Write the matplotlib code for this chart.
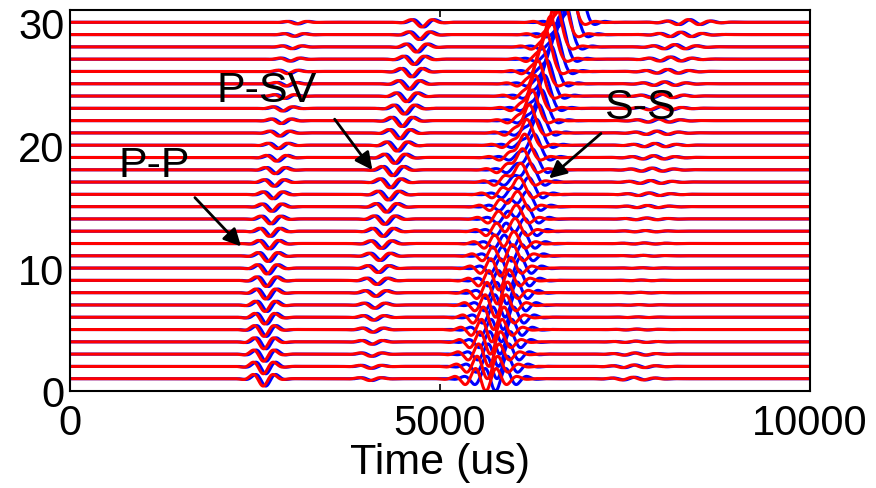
import numpy as np
import matplotlib
matplotlib.use("Agg")
import matplotlib.pyplot as plt

plt.rcParams['font.family'] = ['Liberation Sans', 'DejaVu Sans']

# trace numbers (offset of every trace on the y axis)
traces = np.arange(1, 31)

# arrival times (us) read per trace, bottom (1) to top (30)
pp_time = [2610, 2612, 2615, 2618, 2622, 2627, 2633, 2640, 2648, 2657,
           2667, 2678, 2690, 2703, 2717, 2732, 2748, 2765, 2783, 2802,
           2822, 2843, 2865, 2888, 2912, 2937, 2963, 2990, 3020, 3060]
pp_amp = [0.60, 0.60, 0.58, 0.57, 0.56, 0.55, 0.53, 0.52, 0.50, 0.48,
          0.46, 0.44, 0.42, 0.40, 0.38, 0.36, 0.34, 0.32, 0.30, 0.28,
          0.26, 0.24, 0.22, 0.20, 0.19, 0.18, 0.16, 0.15, 0.14, 0.13]

psv_time = [4050, 4055, 4062, 4070, 4080, 4092, 4105, 4120, 4137, 4155,
            4175, 4196, 4218, 4242, 4267, 4293, 4320, 4350, 4380, 4412,
            4444, 4476, 4508, 4540, 4572, 4606, 4640, 4675, 4712, 4750]
psv_amp = [0.15, 0.16, 0.18, 0.20, 0.22, 0.24, 0.27, 0.30, 0.33, 0.36,
           0.38, 0.40, 0.42, 0.44, 0.45, 0.46, 0.47, 0.48, 0.48, 0.48,
           0.48, 0.48, 0.47, 0.46, 0.45, 0.44, 0.43, 0.42, 0.40, 0.38]

ss_time = [5620, 5640, 5660, 5680, 5700, 5725, 5750, 5775, 5800, 5825,
           5850, 5875, 5900, 5925, 5950, 5980, 6010, 6045, 6080, 6115,
           6150, 6190, 6230, 6270, 6320, 6380, 6440, 6510, 6590, 6680]
ss_amp = [-1.0, -1.0, -1.0, -1.0, -1.0, -1.0, -1.0, -1.0, -0.95, -0.9,
          -0.85, -0.8, -0.75, -0.7, -0.65, -0.6, -0.55, -0.5, -0.45, -0.4,
          -0.4, -0.4, -0.4, -0.4, -0.4, -0.4, -0.4, -0.4, -0.4, -0.4]
ss_peak = [0.0, 0.0, 0.0, 0.0, 0.0, 0.0, 0.0, 0.1, 0.2, 0.3,
           0.5, 0.7, 0.9, 1.1, 1.3, 1.5, 1.7, 1.9, 2.1, 2.3,
           2.5, 2.7, 2.9, 3.1, 3.3, 3.5, 3.7, 3.9, 4.1, 4.3]

late_time = [7600, 7610, 7620, 7630, 7640, 7655, 7670, 7685, 7700, 7715,
             7730, 7745, 7760, 7775, 7790, 7810, 7830, 7850, 7870, 7890,
             7915, 7940, 7965, 7990, 8020, 8060, 8100, 8160, 8240, 8350]
late_amp = [0.12, 0.12, 0.10, 0.06, 0.04, 0.03, 0.03, 0.03, 0.03, 0.03,
            0.04, 0.05, 0.06, 0.08, 0.10, 0.12, 0.13, 0.14, 0.15, 0.15,
            0.15, 0.15, 0.15, 0.16, 0.16, 0.17, 0.18, 0.19, 0.20, 0.22]

t = np.arange(0, 10001, 10.0)


def gabor(t0, amp, sig, per):
    return amp * np.exp(-((t - t0) / sig) ** 2) * np.cos(2 * np.pi * (t - t0) / per)


def trace(i, dt_p, dt_s):
    s = gabor(pp_time[i] + dt_p, -pp_amp[i], 190, 300)
    s += gabor(psv_time[i] + dt_p, -psv_amp[i], 200, 320)
    s += gabor(ss_time[i] + dt_s, ss_amp[i], 330, 290)
    s += ss_peak[i] * np.exp(-((t - ss_time[i] - dt_s - 40) / 100) ** 2)
    s += gabor(late_time[i] + dt_p, late_amp[i], 350, 300)
    return s


fig = plt.figure(figsize=(8.76, 4.89), dpi=100)
ax = fig.add_axes([0.0799, 0.1984, 0.8448, 0.7791])

# blue traces underneath, red traces on top
for i, k in enumerate(traces):
    ax.plot(t, k + trace(i, 35, 130), color='#0000ff', lw=2.2)
for i, k in enumerate(traces):
    ax.plot(t, k + trace(i, 0, 0), color='#ff0000', lw=2.2)

ax.set_xlim(0, 10000)
ax.set_ylim(0, 31)
ax.set_xticks([0, 5000, 10000])
ax.set_yticks([0, 10, 20, 30])
ax.tick_params(direction='in', length=5, width=1.2, labelsize=30,
               top=True, right=True)
ax.tick_params(axis='x', pad=9)
ax.tick_params(axis='y', pad=4)
for sp in ax.spines.values():
    sp.set_linewidth(1.5)
ax.set_xlabel('Time (us)', fontsize=31, labelpad=-1)

arrow = dict(arrowstyle='-|>', color='black', lw=2, mutation_scale=26)
ax.text(660, 18.4, 'P-P', fontsize=31, va='center', ha='left')
ax.annotate('', xy=(2338, 11.6), xytext=(1662, 15.9), arrowprops=arrow)
ax.text(1980, 24.5, 'P-SV', fontsize=31, va='center', ha='left')
ax.annotate('', xy=(4108, 17.8), xytext=(3554, 22.3), arrowprops=arrow)
ax.text(7220, 23.1, 'S-S', fontsize=31, va='center', ha='left')
ax.annotate('', xy=(6446, 17.15), xytext=(7203, 21.1), arrowprops=arrow)

fig.savefig('out.png', dpi=100)
